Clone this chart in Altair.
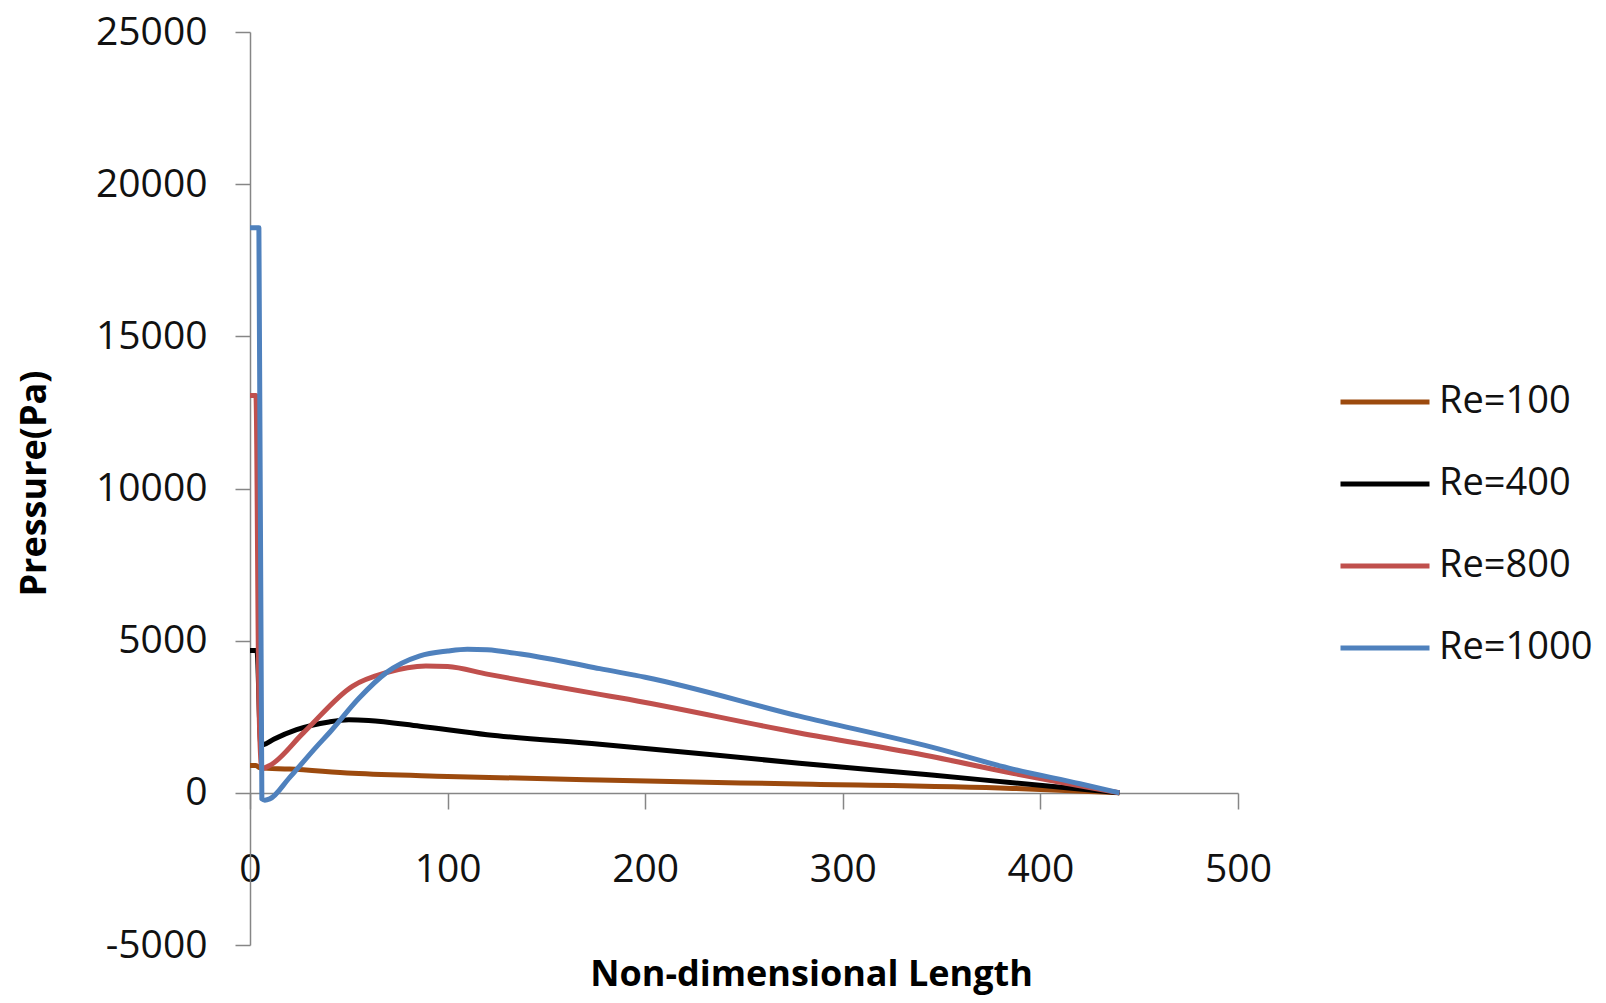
import altair as alt
import pandas as pd

series_names = ["Re=100", "Re=400", "Re=800", "Re=1000"]
series_colors = ["#9C4A0E", "#000000", "#C0504D", "#4F81BD"]

re100_x = [0, 3, 5, 20, 52, 100, 177, 278, 386, 440]
re100_y = [900, 900, 820, 780, 640, 540, 420, 288, 146, 0]

re400_x = [0, 3.5, 5.5, 7, 12, 23.6, 40, 50, 60, 86, 120, 177, 278, 345, 386, 440]
re400_y = [4680, 4680, 1580, 1590, 1760, 2075, 2330, 2400, 2380, 2190, 1910, 1600, 973, 586, 331, 0]

re800_x = [0, 3, 4.5, 6, 10, 27, 52, 69, 89, 100, 120, 153, 177, 187, 278, 345, 386, 440]
re800_y = [13057, 13057, 3000, 800, 900, 1970, 3510, 3950, 4170, 4150, 3900, 3510, 3235, 3124, 1967, 1192, 642, 0]

re1000_x = [0, 4.5, 6, 7.5, 10, 20, 33.7, 40.5, 55, 69, 86, 100, 110, 120, 137, 160, 177, 200, 278, 345, 386, 420, 440]
re1000_y = [18570, 18570, -200, -240, -200, 500, 1520, 2000, 3100, 3950, 4500, 4660, 4720, 4700, 4560, 4300, 4080, 3800, 2520, 1500, 780, 300, 0]

x_ticks = [0, 100, 200, 300, 400, 500]
y_ticks = [-5000, 0, 5000, 10000, 15000, 20000, 25000]

rows = []
for name, xs, ys in [
    ("Re=100", re100_x, re100_y),
    ("Re=400", re400_x, re400_y),
    ("Re=800", re800_x, re800_y),
    ("Re=1000", re1000_x, re1000_y),
]:
    for i, (xv, yv) in enumerate(zip(xs, ys)):
        rows.append({"series": name, "x": xv, "y": yv, "order": i})
df = pd.DataFrame(rows)

FONT = "Open Sans"

chart = (
    alt.Chart(df)
    .mark_line(strokeWidth=5, strokeJoin="round", interpolate="monotone")
    .encode(
        x=alt.X(
            "x:Q",
            scale=alt.Scale(domain=[0, 500], nice=False, zero=False),
            axis=alt.Axis(
                title="Non-dimensional Length",
                values=x_ticks,
                offset=-152,
                grid=False,
                labelFlush=False,
                labelOverlap=False,
                domainColor="#868686",
                domainWidth=1.5,
                tickColor="#868686",
                tickWidth=1.5,
                tickSize=16,
                labelPadding=41,
                labelFont=FONT,
                labelFontSize=39,
                labelColor="#111111",
                labelBaseline="top",
                titleFont=FONT,
                titleFontSize=36,
                titleFontWeight="bold",
                titleColor="#000000",
                titleX=561,
                titleY=192,
                titleAlign="center",
                titleBaseline="alphabetic",
            ),
        ),
        y=alt.Y(
            "y:Q",
            scale=alt.Scale(domain=[-5000, 25000], nice=False, zero=False),
            axis=alt.Axis(
                title="Pressure(Pa)",
                values=y_ticks,
                labelExpr="datum.value < 0 ? '-' + format(-datum.value, 'd') : format(datum.value, 'd')",
                grid=False,
                labelFlush=False,
                labelOverlap=False,
                domainColor="#868686",
                domainWidth=1.5,
                tickColor="#868686",
                tickWidth=1.5,
                tickSize=15,
                labelPadding=28,
                labelFont=FONT,
                labelFontSize=39,
                labelColor="#111111",
                titleFont=FONT,
                titleFontSize=36,
                titleFontWeight="bold",
                titleColor="#000000",
                titleAngle=270,
                titleX=-205,
                titleY=451,
                titleAlign="center",
                titleBaseline="alphabetic",
            ),
        ),
        color=alt.Color(
            "series:N",
            sort=series_names,
            scale=alt.Scale(domain=series_names, range=series_colors),
            legend=alt.Legend(
                title=None,
                orient="none",
                legendX=1088,
                legendY=323,
                padding=0,
                symbolType="stroke",
                symbolSize=7921,
                symbolStrokeWidth=5,
                labelFont=FONT,
                labelFontSize=38,
                labelColor="#111111",
                labelOffset=7,
                rowPadding=16,
            ),
        ),
        order="order:Q",
    )
    .properties(
        width=988,
        height=913,
        padding={"left": 242, "top": 24, "right": 360, "bottom": 50},
        autosize=alt.AutoSizeParams(type="none"),
    )
    .configure(background="white")
    .configure_view(stroke=None, strokeWidth=0)
)

chart.save("out.html", embed_options={"renderer": "svg", "actions": False})
